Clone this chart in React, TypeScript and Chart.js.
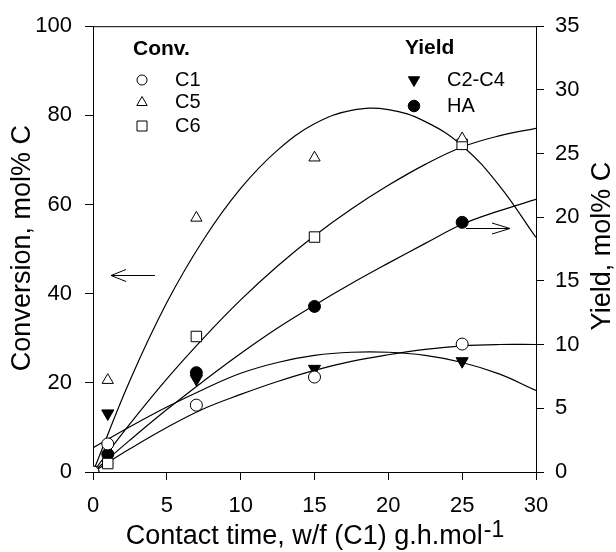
import React, { useEffect, useRef } from 'react';
import { Chart, registerables } from 'chart.js';

Chart.register(...registerables);

// ---- data ----
const contactTime = [0, 1, 7, 15, 25];
const convC1 = [0, 6.3, 15.0, 21.3, 28.7];
const convC5 = [0, 20.6, 57.0, 70.5, 74.8];
const convC6 = [0, 1.9, 30.4, 52.7, 73.5];
const yieldC2C4 = [0, 4.6, 7.3, 8.1, 8.7];
const yieldHA = [0, 1.4, 7.8, 13.0, 19.6];

// fitted curves
const fitTime = [0, 2.5, 5, 7.5, 10, 12.5, 15, 17.5, 20, 22.5, 25, 27.5, 30];
const fitC1 = [0, 5.2, 10, 14.2, 17.4, 20.3, 22.8, 24.8, 26.3, 27.5, 28.3, 28.6, 28.6];
const fitC5 = [0, 20.5, 38, 52.2, 63.6, 72.2, 78.1, 81.1, 81.3, 78.6, 73.2, 64.3, 52.6];
const fitC6 = [0, 10.8, 20.9, 30.1, 38.6, 46.2, 53, 59, 64.3, 69.0, 72.9, 75.4, 77.1];
const fitC2C4 = [1.9, 3.55, 5.1, 6.5, 7.75, 8.6, 9.15, 9.4, 9.4, 9.15, 8.6, 7.7, 6.4];
const fitHA = [0, 2.5, 4.9, 7.15, 9.3, 11.3, 13.1, 14.8, 16.4, 17.95, 19.45, 20.5, 21.4];

const xTickValues = [0, 5, 10, 15, 20, 25, 30];
const convTickValues = [0, 20, 40, 60, 80, 100];
const yieldTickValues = [0, 5, 10, 15, 20, 25, 30, 35];

const xTitle = 'Contact time, w/f (C1) g.h.mol';
const xTitleSup = '-1';
const convTitle = 'Conversion, mol% C';
const yieldTitle = 'Yield, mol% C';
const convLegendTitle = 'Conv.';
const yieldLegendTitle = 'Yield';
const convLegend = ['C1', 'C5', 'C6'];
const yieldLegend = ['C2-C4', 'HA'];

const FONT = "'Liberation Sans', Arial, Helvetica, sans-serif";

const pts = (xs: number[], ys: number[]) => xs.map((x, i) => ({ x, y: ys[i] }));

function marker(ctx: CanvasRenderingContext2D, style: string, x: number, y: number, r: number, filled: boolean) {
  ctx.beginPath();
  if (style === 'circle') {
    ctx.arc(x, y, r, 0, Math.PI * 2);
  } else if (style === 'triangle') {
    ctx.moveTo(x, y - r);
    ctx.lineTo(x + r * 0.866, y + r * 0.5);
    ctx.lineTo(x - r * 0.866, y + r * 0.5);
    ctx.closePath();
  } else if (style === 'down') {
    ctx.moveTo(x, y + r);
    ctx.lineTo(x + r * 0.866, y - r * 0.5);
    ctx.lineTo(x - r * 0.866, y - r * 0.5);
    ctx.closePath();
  } else {
    ctx.rect(x - r, y - r, 2 * r, 2 * r);
  }
  ctx.fillStyle = filled ? '#000' : '#fff';
  ctx.fill();
  ctx.strokeStyle = '#000';
  ctx.lineWidth = 1;
  ctx.stroke();
}

function arrow(ctx: CanvasRenderingContext2D, x1: number, x2: number, y: number, headLeft: boolean, hl: number, hw: number) {
  ctx.beginPath();
  ctx.moveTo(x1, y);
  ctx.lineTo(x2, y);
  const tip = headLeft ? x1 : x2;
  const back = headLeft ? tip + hl : tip - hl;
  ctx.moveTo(back, y - hw);
  ctx.lineTo(tip, y);
  ctx.lineTo(back, y + hw);
  ctx.stroke();
}

const overlay = {
  id: 'overlay',
  afterDraw(chart: any) {
    const ctx: CanvasRenderingContext2D = chart.ctx;
    const { left, right, top, bottom } = chart.chartArea;
    ctx.save();
    ctx.strokeStyle = '#000';
    ctx.lineWidth = 1;
    // top frame line
    ctx.beginPath();
    ctx.moveTo(left, top + 0.5);
    ctx.lineTo(right, top + 0.5);
    ctx.stroke();

    ctx.fillStyle = '#000';
    ctx.textBaseline = 'middle';
    ctx.textAlign = 'left';
    // legend: conversion
    ctx.font = `bold 21px ${FONT}`;
    ctx.fillText(convLegendTitle, 133, 49);
    ctx.font = `20px ${FONT}`;
    const convStyles = ['circle', 'triangle', 'square'];
    const convRs = [5, 6, 5];
    const convYs = [80, 102.5, 126];
    convLegend.forEach((t, i) => {
      marker(ctx, convStyles[i], 142, convYs[i], convRs[i], false);
      ctx.fillStyle = '#000';
      ctx.fillText(t, 175, convYs[i]);
    });
    // legend: yield
    ctx.font = `bold 21px ${FONT}`;
    ctx.fillText(yieldLegendTitle, 405, 48);
    ctx.font = `20px ${FONT}`;
    const yStyles = ['down', 'circle'];
    const yRs = [6.5, 5.8];
    const yYs = [80, 106];
    yieldLegend.forEach((t, i) => {
      marker(ctx, yStyles[i], 414, yYs[i], yRs[i], true);
      ctx.fillStyle = '#000';
      ctx.fillText(t, 447, yYs[i]);
    });

    // arrows
    ctx.strokeStyle = '#000';
    ctx.lineWidth = 1;
    arrow(ctx, 111, 155, 275.5, true, 15, 6);
    arrow(ctx, 466, 510, 228.5, false, 18, 5.5);

    // axis titles
    const midY = (top + bottom) / 2;
    ctx.fillStyle = '#000';
    ctx.font = `27px ${FONT}`;
    ctx.textAlign = 'center';
    ctx.save();
    ctx.translate(23, midY - 1);
    ctx.rotate(-Math.PI / 2);
    ctx.fillText(convTitle, 0, 0);
    ctx.restore();
    ctx.save();
    ctx.translate(603, midY - 3);
    ctx.rotate(-Math.PI / 2);
    ctx.fillText(yieldTitle, 0, 0);
    ctx.restore();

    ctx.textBaseline = 'alphabetic';
    ctx.textAlign = 'left';
    ctx.font = `27px ${FONT}`;
    const w1 = ctx.measureText(xTitle).width;
    ctx.font = `23px ${FONT}`;
    const w2 = ctx.measureText(xTitleSup).width;
    const x0 = (left + right) / 2 - (w1 + w2) / 2;
    ctx.font = `27px ${FONT}`;
    ctx.fillText(xTitle, x0, 544);
    ctx.font = `23px ${FONT}`;
    ctx.fillText(xTitleSup, x0 + w1 + 1, 537);
    ctx.restore();
  },
};

const tickFont = { family: FONT, size: 22 };

export default function App() {
  const ref = useRef<HTMLCanvasElement | null>(null);
  useEffect(() => {
    document.body.style.margin = '0';
    const canvas = ref.current;
    if (!canvas) return;
    const pointDs = (label: string, ys: number[], axis: string, style: string, r: number, filled: boolean, rot = 0) => ({
      type: 'scatter' as const,
      label,
      data: pts(contactTime, ys),
      yAxisID: axis,
      showLine: false,
      pointStyle: style,
      pointRadius: r,
      pointRotation: rot,
      pointBackgroundColor: filled ? '#000' : '#fff',
      pointBorderColor: '#000',
      pointBorderWidth: 1,
      order: 1,
    });
    const lineDs = (label: string, ys: number[], axis: string) => ({
      type: 'line' as const,
      label,
      data: pts(fitTime, ys),
      yAxisID: axis,
      borderColor: '#000',
      borderWidth: 1.2,
      pointRadius: 0,
      fill: false,
      tension: 0.4,
      order: 2,
    });
    const chart = new Chart(canvas, {
      type: 'scatter',
      data: {
        datasets: [
          lineDs('C1 fit', fitC1, 'y'),
          lineDs('C5 fit', fitC5, 'y'),
          lineDs('C6 fit', fitC6, 'y'),
          lineDs('C2-C4 fit', fitC2C4, 'y2'),
          lineDs('HA fit', fitHA, 'y2'),
          pointDs('C1', convC1, 'y', 'circle', 6, false),
          pointDs('C5', convC5, 'y', 'triangle', 6.5, false),
          pointDs('C6', convC6, 'y', 'rect', 7.4, false),
          pointDs('C2-C4', yieldC2C4, 'y2', 'triangle', 7, true, 180),
          pointDs('HA', yieldHA, 'y2', 'circle', 6, true),
        ] as any,
      },
      options: {
        animation: false,
        responsive: false,
        devicePixelRatio: 1,
        layout: { padding: { top: 25, left: 0, right: 0, bottom: 0 } },
        plugins: { legend: { display: false }, tooltip: { enabled: false } },
        scales: {
          x: {
            type: 'linear',
            min: 0,
            max: 30,
            afterBuildTicks: (s: any) => { s.ticks = xTickValues.map((v) => ({ value: v })); },
            afterFit: (s: any) => { s.height = 80; },
            ticks: { color: '#000', font: tickFont, padding: 13, maxRotation: 0 },
            grid: { drawOnChartArea: false, tickLength: 8, color: '#000' },
            border: { color: '#000', width: 1 },
          },
          y: {
            type: 'linear',
            position: 'left',
            min: 0,
            max: 100,
            afterBuildTicks: (s: any) => { s.ticks = convTickValues.map((v) => ({ value: v })); },
            afterFit: (s: any) => { s.width = 93; },
            ticks: { color: '#000', font: tickFont, padding: 13 },
            grid: { drawOnChartArea: false, tickLength: 8, color: '#000' },
            border: { color: '#000', width: 1 },
          },
          y2: {
            type: 'linear',
            position: 'right',
            min: 0,
            max: 35,
            afterBuildTicks: (s: any) => { s.ticks = yieldTickValues.map((v) => ({ value: v })); },
            afterFit: (s: any) => { s.width = 80; },
            ticks: { color: '#000', font: tickFont, padding: 11 },
            grid: { drawOnChartArea: false, tickLength: 8, color: '#000' },
            border: { color: '#000', width: 1 },
          },
        },
      } as any,
      plugins: [overlay],
    });
    return () => chart.destroy();
  }, []);
  return <canvas ref={ref} width={616} height={552} style={{ display: 'block' }} />;
}
